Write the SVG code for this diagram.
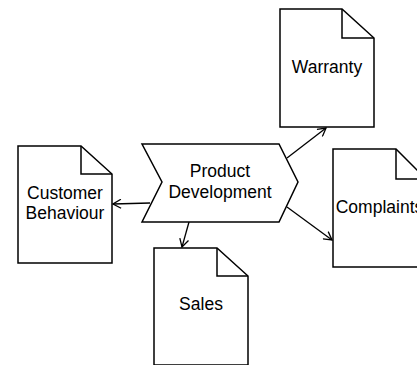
<svg xmlns="http://www.w3.org/2000/svg" width="417" height="365" viewBox="0 0 417 365">
  <style>
    .doc { fill: #ffffff; stroke: #000000; stroke-width: 1.5; stroke-linejoin: miter; }
    .fold { fill: none; stroke: #000000; stroke-width: 1.5; }
    .proc { fill: #ffffff; stroke: #000000; stroke-width: 1.5; stroke-linejoin: miter; }
    .lbl { font-family: "Liberation Sans", Arial, sans-serif; font-size: 17.5px; fill: #000000; text-anchor: middle; }
    .edge { fill: none; stroke: #000000; stroke-width: 1.3; marker-end: url(#open); }
  </style>
  <defs>
    <marker id="open" viewBox="0 0 10 10" refX="9" refY="5" markerWidth="10" markerHeight="10" markerUnits="userSpaceOnUse" orient="auto">
      <path d="M1,0.5 L9,5 L1,9.5" fill="none" stroke="#000000" stroke-width="1.3"/>
    </marker>
  </defs>
  <rect width="417" height="365" fill="#ffffff"/>

  <g id="connectors">
    <line class="edge" x1="150" y1="203" x2="113" y2="204"/>
    <line class="edge" x1="189" y1="222" x2="182" y2="247"/>
    <line class="edge" x1="287" y1="158" x2="326" y2="128"/>
    <line class="edge" x1="287" y1="207" x2="332" y2="240"/>
  </g>

  <g id="product-development">
    <path class="proc" d="M142,144 L279,144 L298,182 L279,222 L142,222 L162,182 Z"/>
    <text class="lbl" x="220" y="177">Product</text>
    <text class="lbl" x="220" y="198">Development</text>
  </g>

  <g id="warranty">
    <path class="doc" d="M280,9 L342,9 L374,38 L374,127 L280,127 Z"/>
    <path class="fold" d="M342,9 L342,38 L374,38"/>
    <text class="lbl" x="327" y="73">Warranty</text>
  </g>

  <g id="customer-behaviour">
    <path class="doc" d="M18,146 L81,146 L112,174 L112,263 L18,263 Z"/>
    <path class="fold" d="M81,146 L81,174 L112,174"/>
    <text class="lbl" x="65" y="199">Customer</text>
    <text class="lbl" x="65" y="219">Behaviour</text>
  </g>

  <g id="sales">
    <path class="doc" d="M154,248 L217,248 L248,276 L248,365 L154,365 Z"/>
    <path class="fold" d="M217,248 L217,276 L248,276"/>
    <text class="lbl" x="201" y="310">Sales</text>
  </g>

  <g id="complaints">
    <path class="doc" d="M333,149 L396,149 L426,179 L426,267 L333,267 Z"/>
    <path class="fold" d="M396,149 L396,179 L426,179"/>
    <text class="lbl" x="379.5" y="213">Complaints</text>
  </g>
</svg>
